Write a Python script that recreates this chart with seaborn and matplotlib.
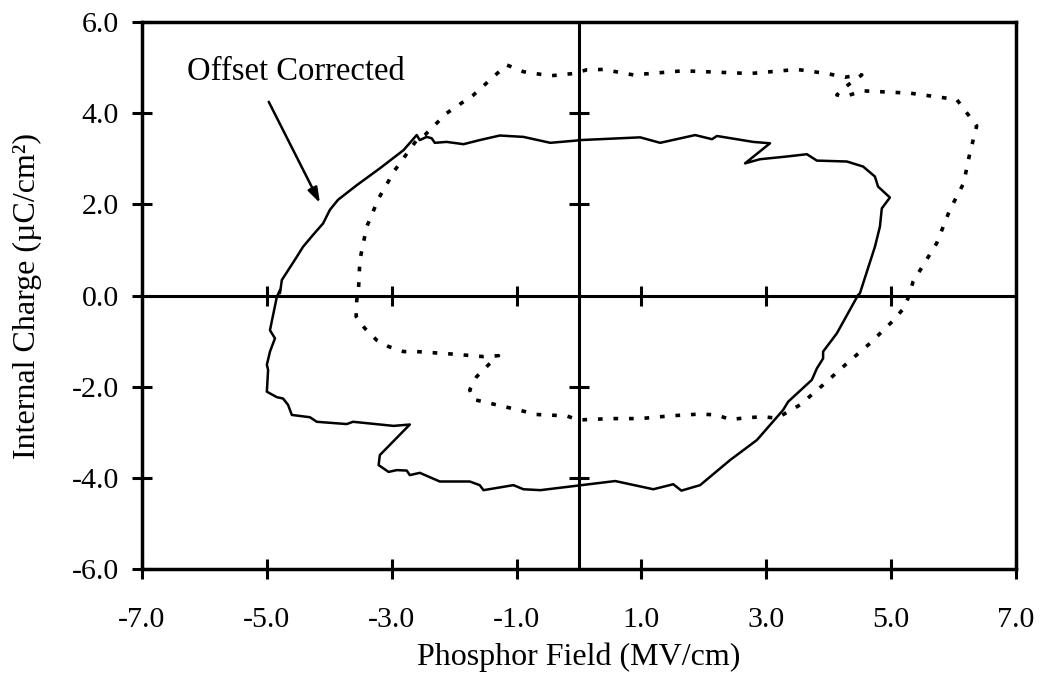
import matplotlib
matplotlib.use("Agg")
import matplotlib.pyplot as plt
import seaborn as sns
import pandas as pd

# Offset corrected loop (solid)
solid_x = [-4.79, -4.76, -4.52, -4.42, -4.26, -4.10, -3.99, -3.86, -3.56, -3.19, -2.81, -2.60,
           -2.55, -2.44, -2.36, -2.31, -2.12, -1.85, -1.59, -1.27, -0.89, -0.46, -0.04,
           0.02, 0.98, 1.30, 1.86, 2.13, 2.21, 2.79, 3.06, 2.66, 2.90, 3.33, 3.65, 3.81, 4.29,
           4.55, 4.74, 4.79, 4.98, 4.85, 4.82, 4.74, 4.50,
           4.47, 4.13, 3.91, 3.91, 3.81, 3.73, 3.35, 3.27, 2.85, 2.42, 1.94, 1.64, 1.51, 1.19,
           0.58, -0.14,
           -0.62, -0.89, -1.05, -1.53, -1.59, -1.75, -2.23, -2.55, -2.71, -2.76, -2.92, -3.05,
           -3.21, -3.19, -2.71, -2.97, -3.62, -3.72, -4.20, -4.31, -4.60, -4.66, -4.74, -4.84,
           -5.00, -4.98, -5.00, -4.95, -4.87, -4.95, -4.84, -4.79]
solid_y = [0.05, 0.34, 0.85, 1.07, 1.33, 1.58, 1.88, 2.10, 2.42, 2.79, 3.19, 3.52,
           3.41, 3.48, 3.45, 3.35, 3.37, 3.32, 3.41, 3.51, 3.48, 3.35, 3.40,
           3.41, 3.47, 3.35, 3.52, 3.43, 3.50, 3.37, 3.34, 2.90, 2.99, 3.05, 3.10, 2.96, 2.94,
           2.83, 2.61, 2.39, 2.15, 1.91, 1.51, 1.07, 0.05,
           0.01, -0.83, -1.23, -1.38, -1.60, -1.85, -2.33, -2.51, -3.17, -3.61, -4.16, -4.28,
           -4.14, -4.25, -4.07, -4.19,
           -4.27, -4.25, -4.16, -4.27, -4.16, -4.08, -4.08, -3.89, -3.94, -3.84, -3.83, -3.87,
           -3.72, -3.50, -2.83, -2.86, -2.77, -2.82, -2.77, -2.67, -2.62, -2.40, -2.26, -2.23,
           -2.11, -1.63, -1.52, -1.23, -0.94, -0.76, -0.03, 0.12]

# Uncorrected loop (dotted)
dot_x = [-3.53, -3.51, -3.40, -3.21, -2.95, -2.60, -2.47, -2.12, -1.69, -1.16, -0.89, -0.46,
         -0.09, 0.12, 0.39, 0.87, 1.67, 2.74, 3.49, 3.97, 4.26, 4.53, 4.31, 4.13, 4.29, 4.55,
         5.30, 5.78, 6.05, 6.37, 6.26, 6.16, 5.94, 5.73, 5.35,
         5.28, 5.20, 5.04, 4.66, 4.29, 3.91, 3.54, 3.17, 2.95, 2.69, 2.42, 2.21, 1.94, 1.46,
         0.98, 0.50, -0.01,
         -0.20, -0.68, -0.97, -1.19, -1.69, -1.75, -1.64, -1.45, -1.29, -1.53, -2.07, -2.60,
         -2.81, -3.05, -3.24, -3.43, -3.57, -3.56, -3.53]
dot_y = [0.19, 0.78, 1.51, 2.13, 2.75, 3.41, 3.52, 4.00, 4.40, 5.06, 4.91, 4.82,
         4.87, 4.95, 4.96, 4.84, 4.93, 4.87, 4.96, 4.87, 4.79, 4.84, 4.62, 4.40, 4.38, 4.49,
         4.44, 4.35, 4.30, 3.72, 3.12, 2.46, 1.88, 1.15, 0.30,
         -0.03, -0.28, -0.54, -1.05, -1.49, -1.96, -2.40, -2.69, -2.66, -2.68, -2.72, -2.62,
         -2.60, -2.64, -2.70, -2.70, -2.73,
         -2.64, -2.61, -2.51, -2.44, -2.28, -2.07, -1.78, -1.52, -1.32, -1.34, -1.28, -1.23,
         -1.23, -1.12, -0.98, -0.72, -0.46, -0.10, 0.19]

x_ticks = [-7.0, -5.0, -3.0, -1.0, 1.0, 3.0, 5.0, 7.0]
y_ticks = [-6.0, -4.0, -2.0, 0.0, 2.0, 4.0, 6.0]
center_x_ticks = [-5.0, -3.0, -1.0, 1.0, 3.0, 5.0]
center_y_ticks = [-4.0, -2.0, 2.0, 4.0]

sns.set_style("white")
plt.rcParams['font.family'] = ['Liberation Serif', 'DejaVu Serif']
plt.rcParams['text.color'] = 'black'
plt.rcParams['axes.labelcolor'] = 'black'

TICK_FS = 21.5
LABEL_FS = 23

fig = plt.figure(figsize=(10.41, 6.84), dpi=100)
ax = fig.add_axes([0.1364, 0.1681, 0.8396, 0.7997])

df_s = pd.DataFrame({"x": solid_x, "y": solid_y})
df_d = pd.DataFrame({"x": dot_x, "y": dot_y})

sns.lineplot(data=df_d, x="x", y="y", sort=False, estimator=None, ax=ax,
             color="black", linewidth=2.6, linestyle=(0, (1.3, 3.0)))
sns.lineplot(data=df_s, x="x", y="y", sort=False, estimator=None, ax=ax,
             color="black", linewidth=1.8)

# center axes
ax.axhline(0, color="black", linewidth=2.2, zorder=1)
ax.axvline(0, color="black", linewidth=2.2, zorder=1)
ax.plot(center_x_ticks, [0] * len(center_x_ticks), linestyle="none", marker="|",
        markersize=15, markeredgewidth=2.2, color="black", clip_on=False)
ax.plot([0] * len(center_y_ticks), center_y_ticks, linestyle="none", marker="_",
        markersize=15, markeredgewidth=2.2, color="black", clip_on=False)

ax.set_xlim(-7, 7)
ax.set_ylim(-6, 6)
ax.set_xticks(x_ticks)
ax.set_yticks(y_ticks)
ax.set_xticklabels([f"{v:.1f}" for v in x_ticks])
ax.set_yticklabels([f"{v:.1f}" for v in y_ticks])
ax.tick_params(bottom=True, left=True, top=False, right=False,
               direction="inout", length=15, width=2.2, labelsize=TICK_FS, colors="black")
ax.tick_params(axis="x", pad=20)
ax.tick_params(axis="y", pad=9)
for s in ax.spines.values():
    s.set_visible(True)
    s.set_color("black")
    s.set_linewidth(2.5)

ax.set_xlabel("Phosphor Field (MV/cm)", fontsize=LABEL_FS)
ax.set_ylabel("Internal Charge (\u00b5C/cm\u00b2)", fontsize=LABEL_FS)
ax.xaxis.set_label_coords(0.5, -0.135)
ax.yaxis.set_label_coords(-0.1144, 0.5)

ax.text(-6.28, 4.73, "Offset Corrected", fontsize=23.5, ha="left", va="baseline")
ax.annotate("", xy=(-4.15, 2.03), xytext=(-4.97, 4.25),
            arrowprops=dict(arrowstyle="-|>,head_length=0.9,head_width=0.3",
                            color="black", linewidth=1.8, shrinkA=0, shrinkB=0))

fig.savefig("out.png", dpi=100)
